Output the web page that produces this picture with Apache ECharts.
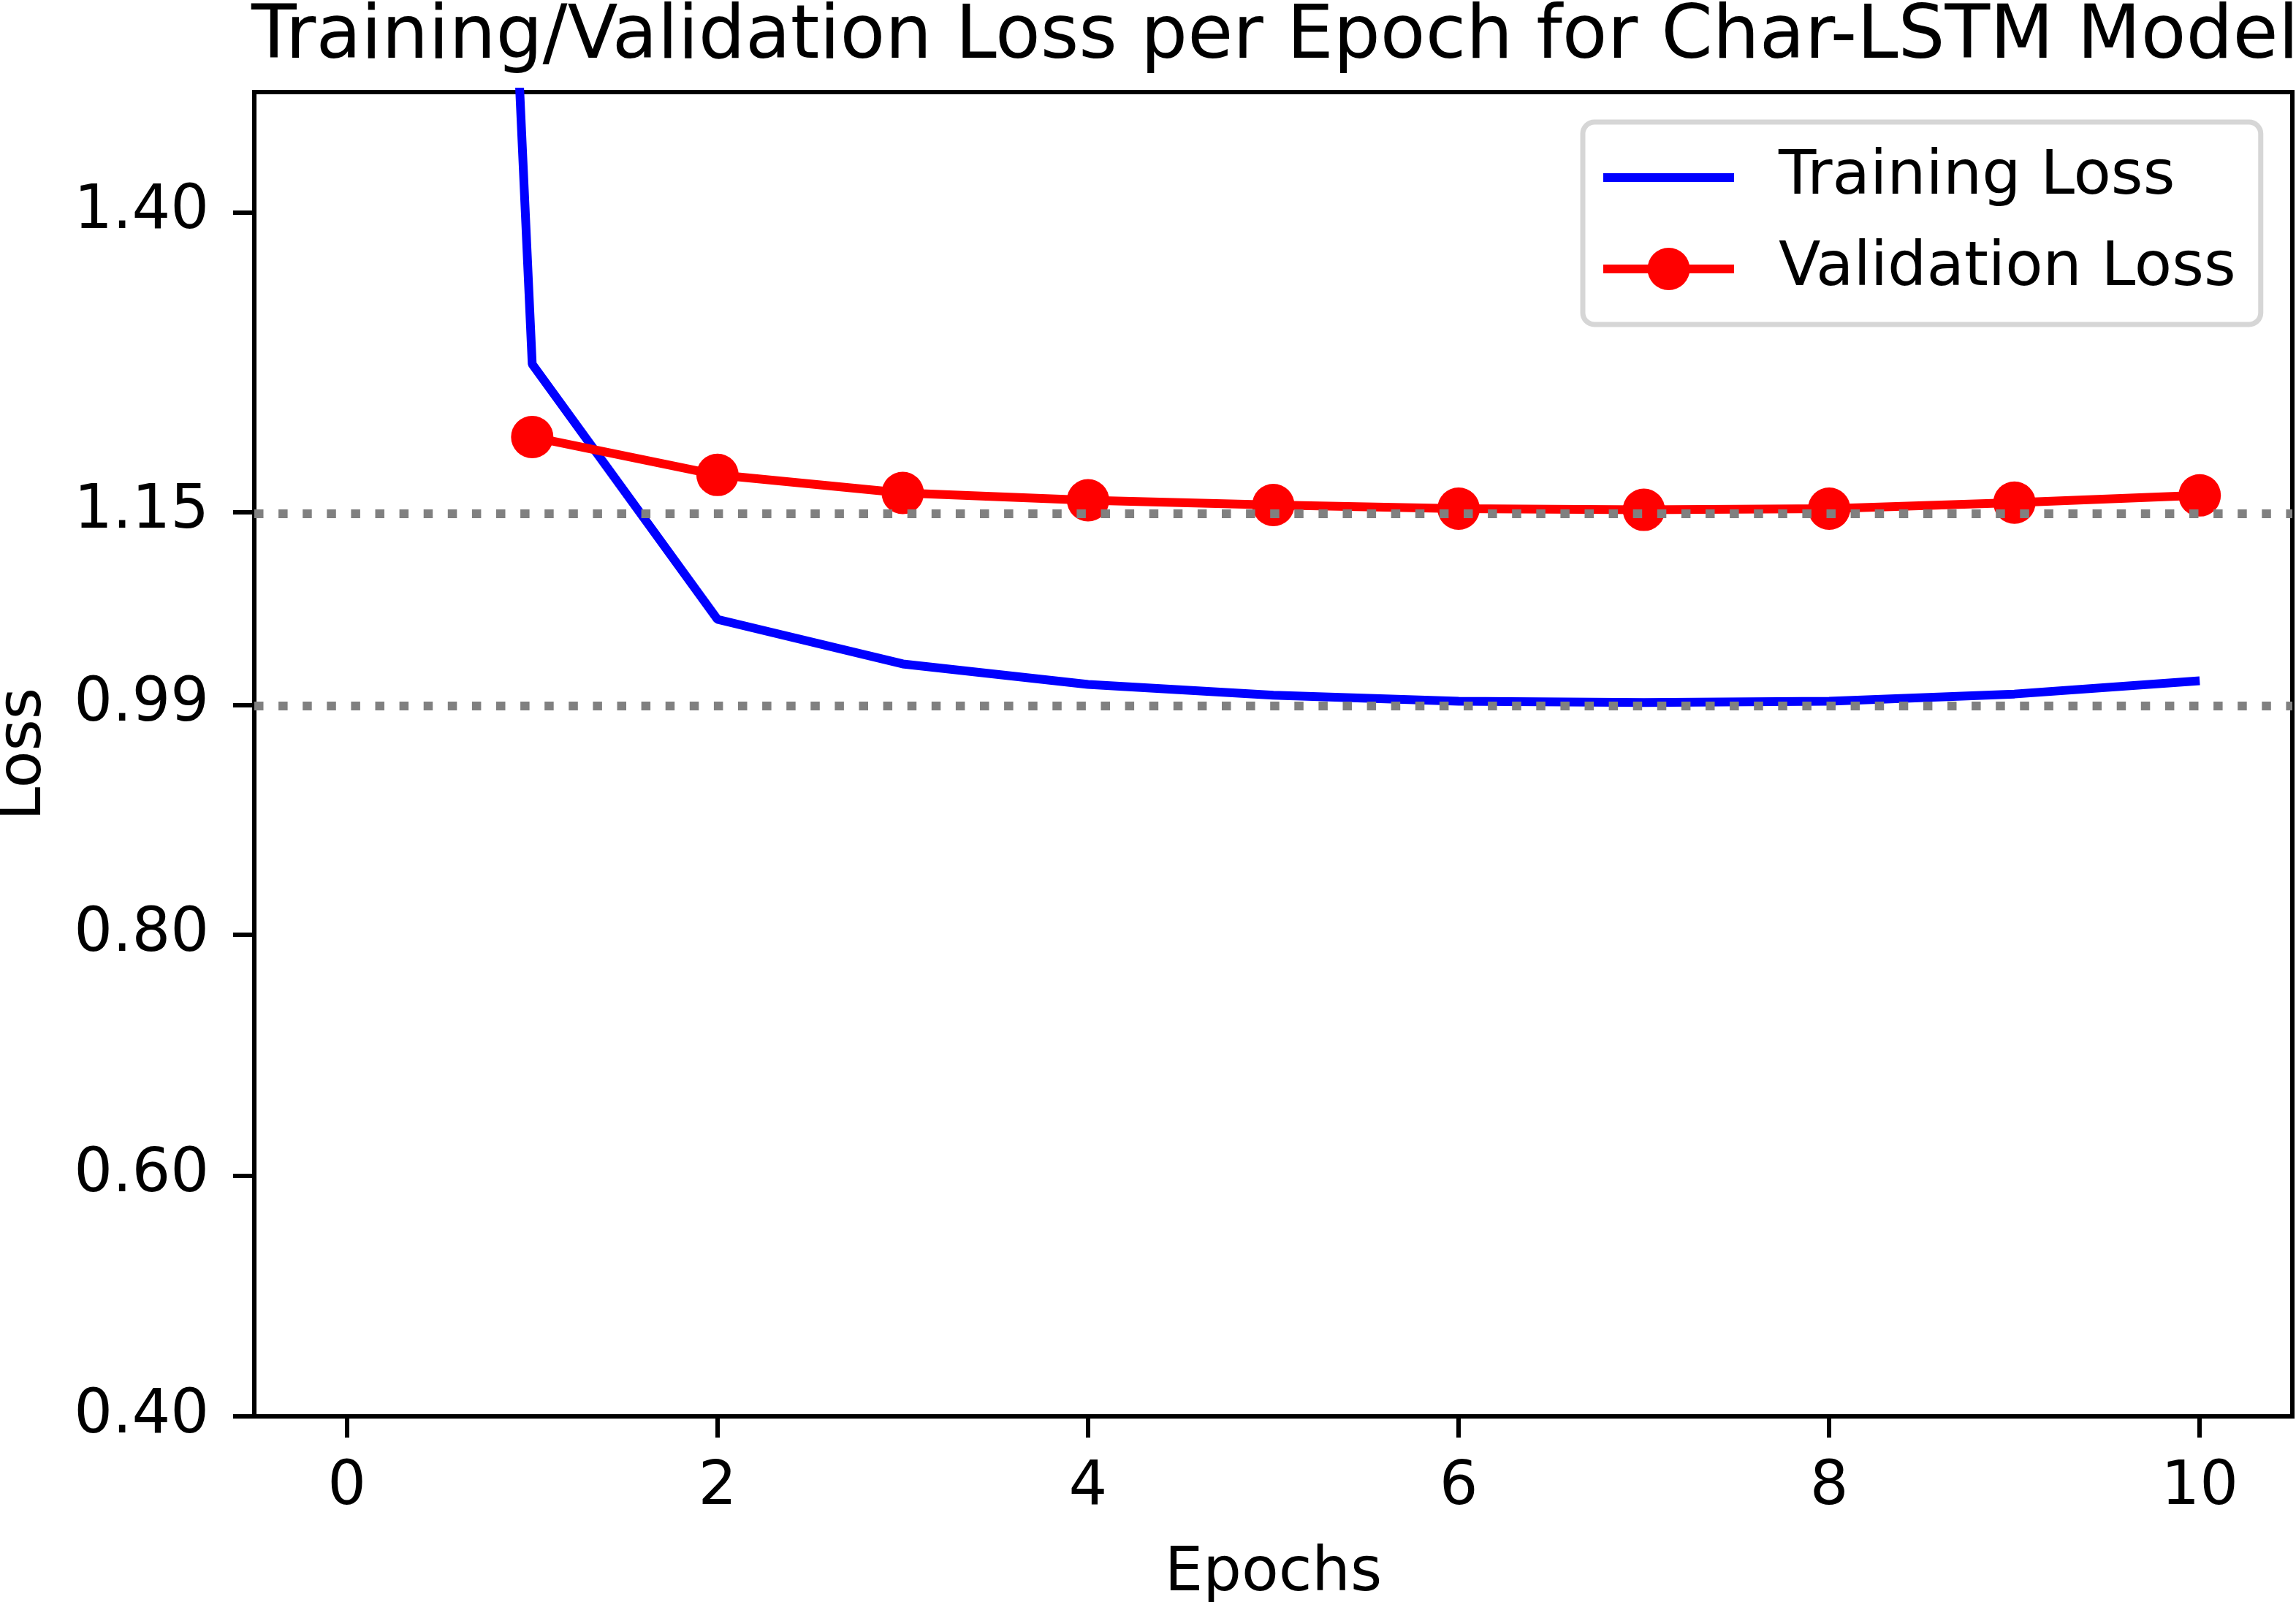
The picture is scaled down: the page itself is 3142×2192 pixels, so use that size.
<!DOCTYPE html>
<html>
<head>
<meta charset="utf-8">
<title>Char-LSTM loss</title>
<script src="https://cdn.jsdelivr.net/npm/echarts@6/dist/echarts.min.js"></script>
<style>
  html, body { margin: 0; padding: 0; background: #fff; }
  #chart { width: 3142px; height: 2192px; }
</style>
</head>
<body>
<div id="chart"></div>
<script>
// values
var trainEpochs = [0, 1, 2, 3, 4, 5, 6, 7, 8, 9, 10];
var trainLoss = [4.65, 1.274, 1.062, 1.025, 1.008, 0.999, 0.994, 0.993, 0.994, 1.000, 1.011];
var valEpochs = [1, 2, 3, 4, 5, 6, 7, 8, 9, 10];
var valLoss = [1.2135, 1.182, 1.167, 1.161, 1.157, 1.154, 1.153, 1.154, 1.159, 1.165];
var refLosses = [0.991, 1.151];
var xTicks = [0, 2, 4, 6, 8, 10];
var yTicks = [0.40, 0.60, 0.80, 0.991, 1.151, 1.40];

function pairs(xs, ys) {
    return xs.map(function (x, i) { return [x, ys[i]]; });
}

var font = 'DejaVu Sans';
var chartDom = document.getElementById('chart');
var myChart = echarts.init(chartDom, null, { renderer: 'canvas' });
var option;

option = {
    animation: false,
    backgroundColor: '#fff',
    textStyle: { fontFamily: font, color: '#000' },
    title: {
        text: 'Training/Validation Loss per Epoch for Char-LSTM Model',
        left: 344,
        top: 2,
        padding: 0,
        textStyle: { fontFamily: font, fontSize: 101, fontWeight: 'normal', color: '#000' }
    },
    grid: {
        left: 348,
        right: 5,
        top: 126,
        bottom: 254,
        show: true,
        borderColor: '#000',
        borderWidth: 6,
        containLabel: false,
        outerBoundsMode: 'none'
    },
    legend: {
        orient: 'vertical',
        left: 2166,
        top: 167,
        padding: [34, 34, 34, 22],
        itemWidth: 179,
        itemHeight: 72.5,
        itemGap: 41,
        backgroundColor: 'rgba(255,255,255,0.8)',
        borderColor: 'rgba(204,204,204,0.8)',
        borderWidth: 7,
        borderRadius: 16,
        textStyle: { fontFamily: font, fontSize: 84, color: '#000', padding: [0, 0, 0, 56] },
        data: [
            { name: 'Training Loss', itemStyle: { opacity: 0 }, lineStyle: { color: '#0000ff', width: 12 } },
            { name: 'Validation Loss', lineStyle: { color: '#ff0000', width: 12 } }
        ]
    },
    xAxis: {
        type: 'value',
        min: -0.5,
        max: 10.5,
        name: 'Epochs',
        nameLocation: 'middle',
        nameGap: 175,
        nameTextStyle: { fontFamily: font, fontSize: 83, color: '#000' },
        axisLine: { show: true, onZero: false, lineStyle: { color: '#000', width: 6 } },
        axisTick: { show: true, inside: false, length: 29, lineStyle: { color: '#000', width: 6 }, customValues: xTicks },
        axisLabel: { fontFamily: font, fontSize: 83, color: '#000', margin: 57, customValues: xTicks },
        splitLine: { show: false }
    },
    yAxis: {
        type: 'value',
        min: 0.4,
        max: 1.5,
        name: 'Loss',
        nameLocation: 'middle',
        nameGap: 273,
        nameRotate: 90,
        nameTextStyle: { fontFamily: font, fontSize: 83, color: '#000' },
        axisLine: { show: true, onZero: false, lineStyle: { color: '#000', width: 6 } },
        axisTick: { show: true, inside: false, length: 29, lineStyle: { color: '#000', width: 6 }, customValues: yTicks },
        axisLabel: {
            fontFamily: font, fontSize: 83, color: '#000', margin: 62,
            customValues: yTicks,
            formatter: function (v) { return v.toFixed(2); }
        },
        splitLine: { show: false }
    },
    series: [
        {
            name: 'Training Loss',
            type: 'line',
            data: pairs(trainEpochs, trainLoss),
            symbol: 'none',
            color: '#0000ff',
            lineStyle: { color: '#0000ff', width: 12 },
            z: 2
        },
        {
            name: 'Validation Loss',
            type: 'line',
            data: pairs(valEpochs, valLoss),
            symbol: 'circle',
            symbolSize: 58,
            color: '#ff0000',
            itemStyle: { color: '#ff0000' },
            lineStyle: { color: '#ff0000', width: 12 },
            z: 3
        },
        {
            name: 'ref',
            type: 'line',
            data: [],
            z: 4,
            markLine: {
                silent: true,
                symbol: 'none',
                label: { show: false },
                lineStyle: { color: '#808080', width: 12, type: [12.5, 20.6], cap: 'butt' },
                data: refLosses.map(function (v) { return { yAxis: v }; })
            }
        }
    ]
};
option && myChart.setOption(option);
</script>
</body>
</html>
